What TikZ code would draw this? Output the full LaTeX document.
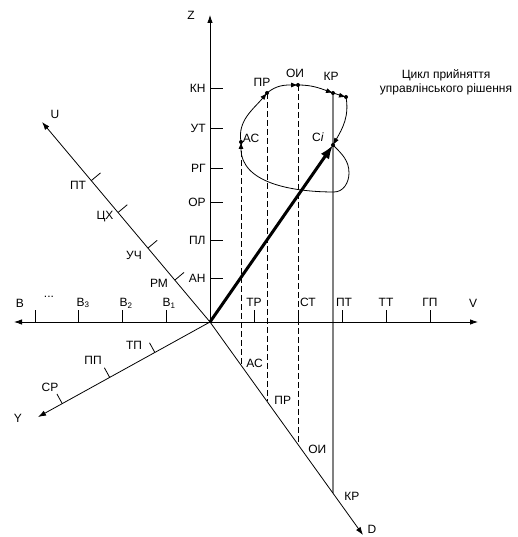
\documentclass[tikz,border=0pt]{standalone}
\usepackage{fontspec}
\setsansfont{Liberation Sans}
\usetikzlibrary{arrows.meta,calc}

\begin{document}
\begin{tikzpicture}[x=1pt,y=1pt,>={Latex[length=8pt,width=5.5pt]},font=\sffamily\fontsize{12}{14}\selectfont,line width=0.8pt]
\definecolor{projection}{RGB}{128,128,128}
\tikzset{
  lbl/.style={inner sep=1pt},
  proj/.style={dash pattern=on 6pt off 3pt},
  cyclearrow/.style={-{Latex[length=7pt,width=5pt]}}
}
\useasboundingbox (0,0) rectangle (518,537);

\coordinate (O) at (210,215);
\coordinate (Zt) at (210,522);
\coordinate (Vl) at (14,215);
\coordinate (Vr) at (478,215);
\coordinate (Ut) at (42,415);
\coordinate (Yt) at (38,120);
\coordinate (Dt) at (363,2);

\coordinate (AC) at (241,395);
\coordinate (PR) at (267,444);
\coordinate (OI) at (298,452);
\coordinate (KR) at (333,444);
\coordinate (KRb) at (346,440);
\coordinate (Ci) at (333,392);
\coordinate (L1) at (349,364);
\coordinate (L2) at (334,345);

\coordinate (dAC) at (241,171.8);
\coordinate (dPR) at (267,135.6);
\coordinate (dOI) at (298,92.5);
\coordinate (dKR) at (333,43.8);

% Projections of the cycle stages onto the D axis.
\draw[proj] (AC)--(dAC);
\draw[proj] (PR)--(dPR);
\draw[proj] (OI)--(dOI);
\draw[projection,line width=1.8pt] (KR)--(dKR);

% Axes.
\draw[->] (O)--(Zt) node[lbl,pos=1,left=14pt] (zZ) {Z};
\draw[<->] (Vl)--(Vr);
\draw[->] (O)--(Ut);
\draw[->] (O)--(Yt);
\draw[->] (O)--(Dt);
\node[lbl] (vV) at (473,234) {V};
\node[lbl] (uU) at (55,423) {U};
\node[lbl] (yY) at (18,119) {Y};
\node[lbl] (dD) at (372,8) {D};

% Z scale.
\draw (210,449) node[lbl,left=3pt] (zKN) {КН} -- ++(13,0);
\draw (210,409) node[lbl,left=3pt] (zUT) {УТ} -- ++(13,0);
\draw (210,369) node[lbl,left=3pt] (zRG) {РГ} -- ++(13,0);
\draw (210,335) node[lbl,left=3pt] (zOR) {ОР} -- ++(13,0);
\draw (210,297) node[lbl,left=3pt] (zPL) {ПЛ} -- ++(13,0);
\draw (210,259) node[lbl,left=3pt] (zAN) {АН} -- ++(13,0);

% V scale.
\draw (35,215)--++(0,12);
\draw (78,215)--++(0,12);
\draw (122,215)--++(0,12);
\draw (166,215)--++(0,12);
\draw (254,215)--++(0,12);
\draw (298,215)--++(0,12);
\draw (342,215)--++(0,12);
\draw (386,215)--++(0,12);
\draw (430,215)--++(0,12);
\node[lbl] (vB) at (20,234) {В};
\node[lbl] (vDots) at (49,240) {...};
\node[lbl] (vB3) at (83,234) {В\textsubscript{3}};
\node[lbl] (vB2) at (126,234) {В\textsubscript{2}};
\node[lbl] (vB1) at (169,234) {В\textsubscript{1}};
\node[lbl] (vTR) at (254,235) {ТР};
\node[lbl] (vST) at (308,235) {СТ};
\node[lbl] (vPT) at (344,235) {ПТ};
\node[lbl] (vTT) at (386,235) {ТТ};
\node[lbl] (vGP) at (430,235) {ГП};

% U scale.
\draw ($(O)+(130:54.7)$)--++(40:12);
\draw ($(O)+(130:96.5)$)--++(40:12);
\draw ($(O)+(130:143)$)--++(40:12);
\draw ($(O)+(130:184.6)$)--++(40:12);
\node[lbl] (uRM) at (159,254) {РМ};
\node[lbl] (uUC) at (134,282) {УЧ};
\node[lbl] (uCX) at (105,320) {ЦХ};
\node[lbl] (uPT) at (78,352) {ПТ};

% Y scale.
\draw ($(O)+(208.9:63)$)--++(118.9:11);
\draw ($(O)+(208.9:114.6)$)--++(118.9:11);
\draw ($(O)+(208.9:168.8)$)--++(118.9:11);
\node[lbl] (yTP) at (134,192) {ТП};
\node[lbl] (yPP) at (93,177) {ПП};
\node[lbl] (ySR) at (50,150) {СР};

% D scale.
\node[lbl,anchor=west] (dACl) at (245,174) {АС};
\node[lbl,anchor=west] (dPRl) at (273,137) {ПР};
\node[lbl,anchor=west] (dOIl) at (307,88) {ОИ};
\node[lbl,anchor=west] (dKRl) at (343,41) {КР};

% Decision-making cycle.
\draw[cyclearrow] (AC) to[out=100,in=230] (PR);
\draw[cyclearrow] (PR) to[out=40,in=180] (OI);
\draw[cyclearrow] (OI) to[out=0,in=160] (KR);
\draw[cyclearrow] (KR) to[out=-15,in=165] (KRb);
\draw[cyclearrow] (KRb) to[out=-80,in=60] (Ci);
\draw[cyclearrow] (Ci) to[out=-45,in=90] (L1) to[out=-90,in=0] (L2)
  to[out=180,in=-90] (AC);
\draw[line width=3pt,-{Latex[length=14pt,width=10pt]}] (O)--(Ci);

\fill (AC) circle (2pt);
\fill (PR) circle (2pt);
\fill (OI) circle (2pt);
\fill (KR) circle (2pt);
\fill (KRb) circle (2pt);
\fill (Ci) circle (2pt);
\node[lbl] (cAC) at (251,399) {АС};
\node[lbl] (cPR) at (262,455) {ПР};
\node[lbl] (cOI) at (295,464) {ОИ};
\node[lbl] (cKR) at (331,461) {КР};
\node[lbl] (cCi) at (318,400) {С\textit{i}};
\node[lbl,align=center] (title) at (446,455) {Цикл прийняття\\управлінського рішення};
\end{tikzpicture}
\end{document}
